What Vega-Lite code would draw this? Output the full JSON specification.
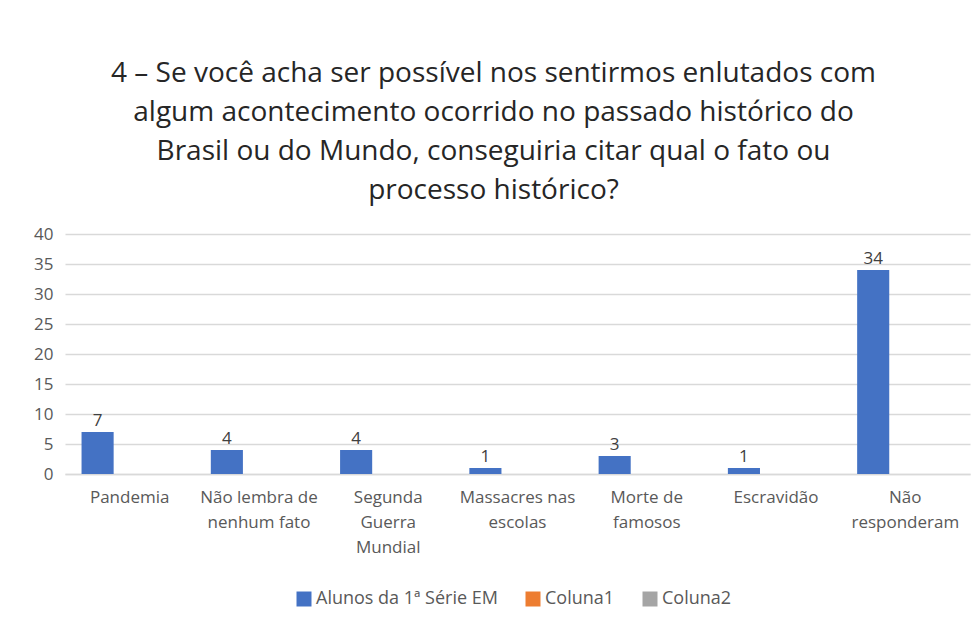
{
  "$schema": "https://vega.github.io/schema/vega-lite/v6.json",
  "width": 905,
  "height": 240,
  "autosize": {"type": "none"},
  "padding": {"left": 65, "top": 234, "right": 8, "bottom": 149},
  "background": "white",
  "title": {
    "text": ["4 – Se você acha ser possível nos sentirmos enlutados com", "algum acontecimento ocorrido no passado histórico do", "Brasil ou do Mundo, conseguiria citar qual o fato ou", "processo histórico?"],
    "font": "Open Sans",
    "fontSize": 28,
    "fontWeight": "normal",
    "color": "#262626",
    "lineHeight": 39,
    "anchor": "middle",
    "dx": -24,
    "offset": 20
  },
  "data": {
    "values": [
      {"categoria": "Pandemia", "serie": "Alunos da 1ª Série EM", "valor": 7},
      {"categoria": "Não lembra de\nnenhum fato", "serie": "Alunos da 1ª Série EM", "valor": 4},
      {"categoria": "Segunda\nGuerra\nMundial", "serie": "Alunos da 1ª Série EM", "valor": 4},
      {"categoria": "Massacres nas\nescolas", "serie": "Alunos da 1ª Série EM", "valor": 1},
      {"categoria": "Morte de\nfamosos", "serie": "Alunos da 1ª Série EM", "valor": 3},
      {"categoria": "Escravidão", "serie": "Alunos da 1ª Série EM", "valor": 1},
      {"categoria": "Não\nresponderam", "serie": "Alunos da 1ª Série EM", "valor": 34}
    ]
  },
  "encoding": {
    "x": {
      "field": "categoria",
      "type": "nominal",
      "sort": null,
      "scale": {"paddingInner": 0.255, "paddingOuter": 0.128},
      "axis": {
        "title": null,
        "labelAngle": 0,
        "labelExpr": "split(datum.value, '\\n')",
        "labelFont": "Open Sans",
        "labelFontSize": 17,
        "labelColor": "#595959",
        "labelLineHeight": 25,
        "labelPadding": 15,
        "ticks": false,
        "domainColor": "#D9D9D9",
        "domainWidth": 1.5,
        "grid": false
      }
    },
    "xOffset": {
      "field": "serie",
      "type": "nominal",
      "scale": {"domain": ["Alunos da 1ª Série EM", "Coluna1", "Coluna2"], "padding": 0}
    },
    "y": {
      "field": "valor",
      "type": "quantitative",
      "scale": {"domain": [0, 40]},
      "axis": {
        "title": null,
        "values": [0, 5, 10, 15, 20, 25, 30, 35, 40],
        "labelFont": "Open Sans",
        "labelFontSize": 17,
        "labelColor": "#595959",
        "labelPadding": 12,
        "ticks": false,
        "domain": false,
        "gridColor": "#D9D9D9",
        "gridWidth": 1.5
      }
    }
  },
  "layer": [
    {
      "mark": {"type": "bar"},
      "encoding": {
        "color": {
          "field": "serie",
          "type": "nominal",
          "scale": {"domain": ["Alunos da 1ª Série EM", "Coluna1", "Coluna2"], "range": ["#4472C4", "#ED7D31", "#A5A5A5"]},
          "legend": {
            "title": null,
            "orient": "none",
            "direction": "horizontal",
            "legendX": 230,
            "legendY": 356,
            "symbolType": "square",
            "symbolSize": 225,
            "symbolStrokeWidth": 0,
            "labelFont": "Open Sans",
            "labelFontSize": 18,
            "labelColor": "#595959",
            "labelLimit": 400,
            "labelOffset": 3,
            "columnPadding": 26
          }
        }
      }
    },
    {
      "mark": {"type": "text", "baseline": "bottom", "dy": -2, "font": "Open Sans", "fontSize": 17, "color": "#404040"},
      "encoding": {"text": {"field": "valor", "type": "quantitative"}}
    }
  ],
  "config": {"view": {"stroke": null}}
}
